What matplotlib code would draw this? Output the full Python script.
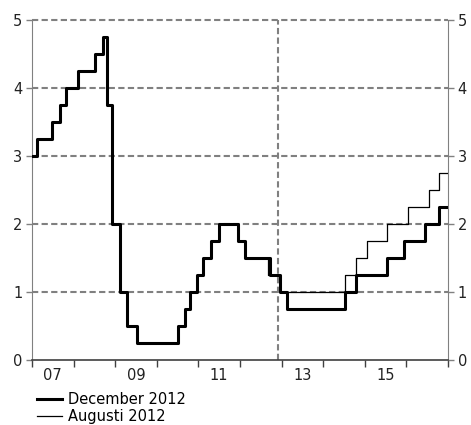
import numpy as np
import matplotlib
matplotlib.use('Agg')
import matplotlib.pyplot as plt

# reporänta, steg (datum som årtal, nivå i procent)
dec_x = [2007.0, 2007.11, 2007.47, 2007.67, 2007.82, 2008.11, 2008.51, 2008.70, 2008.80, 2008.81,
         2008.92, 2009.12, 2009.28, 2009.52, 2010.50, 2010.68, 2010.81, 2010.97, 2011.12, 2011.30,
         2011.50, 2011.96, 2012.13, 2012.73, 2012.96, 2013.12, 2014.53, 2014.79, 2015.54, 2015.94,
         2016.46, 2016.79, 2017.0]
dec_y = [3.00, 3.25, 3.50, 3.75, 4.00, 4.25, 4.50, 4.75, 4.25, 3.75,
         2.00, 1.00, 0.50, 0.25, 0.50, 0.75, 1.00, 1.25, 1.50, 1.75,
         2.00, 1.75, 1.50, 1.25, 1.00, 0.75, 1.00, 1.25, 1.50, 1.75,
         2.00, 2.25, 2.25]

aug_x = [2011.50, 2011.95, 2012.12, 2012.68, 2012.96, 2014.53, 2014.79, 2015.05, 2015.54,
         2016.05, 2016.54, 2016.79, 2017.0]
aug_y = [2.00, 1.75, 1.50, 1.25, 1.00, 1.25, 1.50, 1.75, 2.00,
         2.25, 2.50, 2.75, 2.75]

year_ticks = list(range(2007, 2018))
label_years = [2007, 2009, 2011, 2013, 2015]
labels = ['07', '09', '11', '13', '15']
y_ticks = [0, 1, 2, 3, 4, 5]
now_line = 2012.92

plt.rcParams['font.family'] = ['DejaVu Sans']
plt.rcParams['font.size'] = 9

fig = plt.figure(figsize=(4.71, 4.25), dpi=100)
ax = fig.add_axes([0.068, 0.153, 0.883, 0.8])

grey = '#808080'
dash = (0, (3, 1.6))
for v in y_ticks[1:]:
    ax.axhline(v, color=grey, lw=1.5, ls=dash, zorder=1, clip_on=False)
ax.axvline(now_line, color=grey, lw=1.5, ls=dash, zorder=1)

ax.plot(aug_x, aug_y, drawstyle='steps-post', color='black', lw=0.9, zorder=3, label='Augusti 2012')
ax.plot(dec_x, dec_y, drawstyle='steps-post', color='black', lw=2.2, zorder=4, label='December 2012')

ax.set_xlim(2007, 2017)
ax.set_ylim(0, 5)

ax.set_xticks(year_ticks)
ax.set_xticklabels([])
ax.set_xticks([y + 0.5 for y in label_years], minor=True)
ax.set_xticklabels(labels, minor=True)
ax.tick_params(axis='x', which='major', direction='out', length=5, width=1, color='#404040')
ax.tick_params(axis='x', which='minor', length=0, pad=6, labelsize=10.5, labelcolor='#222222')

ax.set_yticks(y_ticks)
ax.tick_params(axis='y', which='major', direction='out', length=4, width=1, color=grey,
               left=True, right=True, labelleft=True, labelright=True, labelsize=10.5,
               labelcolor='#222222', pad=3)

ax.spines['top'].set_visible(False)
ax.spines['left'].set_color(grey)
ax.spines['right'].set_color(grey)
ax.spines['bottom'].set_color('#404040')
ax.spines['bottom'].set_linewidth(1.2)

h, l = ax.get_legend_handles_labels()
fig.legend(h[::-1], l[::-1], loc='upper left', bbox_to_anchor=(0.078, 0.078), frameon=False,
           handlelength=1.7, handletextpad=0.45, borderpad=0, borderaxespad=0,
           labelspacing=0.15, fontsize=10.5)

fig.savefig('out.png', dpi=100)
